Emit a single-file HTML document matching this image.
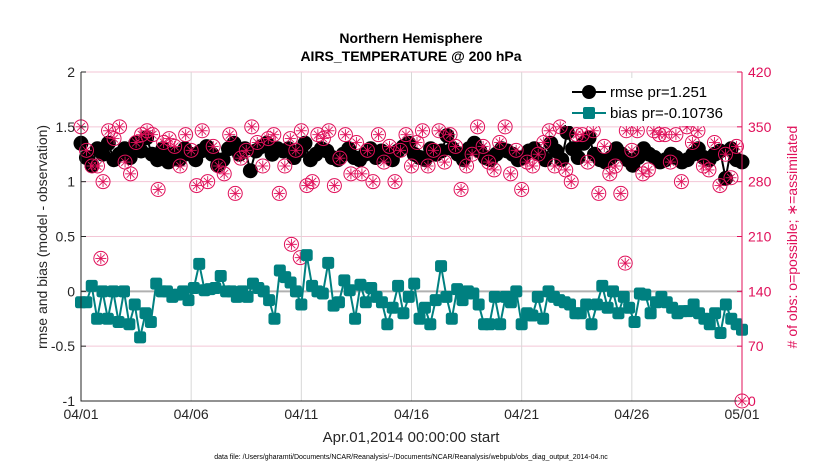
<!DOCTYPE html>
<html><head><meta charset="utf-8"><style>
body{margin:0;background:#fff;font-family:"Liberation Sans",sans-serif}
svg text{font-family:"Liberation Sans",sans-serif}
</style></head><body>
<svg id="c" width="830" height="470"></svg>
<script>
const biasVals=[-0.1,-0.1,0.05,-0.25,0.0,-0.25,0.0,-0.28,0.0,-0.3,-0.12,-0.42,-0.2,-0.28,0.07,0.0,0.0,-0.05,-0.03,0.0,-0.08,0.03,0.25,0.01,0.02,0.03,0.14,0.0,0.0,-0.05,0.0,-0.05,0.07,0.03,0.0,-0.08,-0.25,0.19,0.13,0.08,0.0,-0.12,0.33,0.05,0.0,-0.02,0.26,-0.13,-0.1,0.1,0.01,-0.25,0.06,-0.1,0.03,-0.05,-0.1,-0.3,-0.15,0.05,-0.2,-0.05,0.07,-0.25,-0.15,-0.3,-0.08,0.23,-0.05,-0.25,0.02,-0.08,0.0,-0.02,-0.12,-0.3,-0.3,-0.05,-0.3,-0.05,-0.1,0.0,-0.3,-0.2,-0.22,-0.05,-0.25,0.0,-0.05,-0.08,-0.1,-0.12,-0.2,-0.2,-0.12,-0.3,-0.12,0.05,-0.15,0.0,-0.2,-0.05,-0.15,-0.28,-0.02,-0.03,-0.2,-0.1,-0.05,-0.1,-0.15,-0.2,-0.18,-0.18,-0.12,-0.2,-0.25,-0.3,-0.2,-0.38,-0.12,-0.25,-0.3,-0.35];
const rmseVals=[1.35,1.22,1.15,1.3,1.25,1.35,1.2,1.25,1.3,1.22,1.35,1.28,1.4,1.25,1.2,1.3,1.18,1.25,1.2,1.3,1.25,1.2,1.28,1.32,1.25,1.15,1.2,1.3,1.35,1.25,1.3,1.1,1.28,1.32,1.35,1.25,1.3,1.28,1.3,1.22,1.28,1.35,1.2,1.25,1.3,1.28,1.22,1.2,1.25,1.3,1.22,1.2,1.25,1.3,1.22,1.28,1.25,1.2,1.28,1.32,1.35,1.25,1.22,1.2,1.3,1.25,1.28,1.42,1.3,1.25,1.2,1.3,1.35,1.28,1.22,1.2,1.25,1.3,1.28,1.25,1.2,1.22,1.28,1.3,1.25,1.2,1.35,1.28,1.2,1.45,1.3,1.22,1.35,1.4,1.25,1.2,1.18,1.22,1.3,1.25,1.2,1.15,1.22,1.3,1.25,1.22,1.18,1.2,1.25,1.22,1.18,1.2,1.25,1.3,1.22,1.2,1.25,1.28,1.03,1.3,1.2,1.18];
const obsVals=[350,320,300,300,280,345,335,350,305,290,330,340,345,340,270,330,335,325,300,340,320,275,345,280,325,300,290,340,265,310,320,350,330,300,335,340,265,300,335,320,345,275,280,340,335,345,275,310,340,290,330,290,320,280,340,305,325,280,320,340,300,330,345,300,320,345,305,340,325,270,300,315,350,325,305,295,330,350,290,320,270,305,300,315,330,345,300,350,295,280,340,340,305,345,265,325,290,300,265,345,320,345,290,295,345,340,340,305,340,280,350,330,345,300,295,330,275,315,285,325,0];
const lowObsX=[0.9,9.55,9.95,24.7];
const lowObsV=[182,200,183,176];
const xTickLabels=["04/01","04/06","04/11","04/16","04/21","04/26","05/01"];
const yTicks=[-1,-0.5,0,0.5,1,1.5,2];
const yRightTicks=[0,70,140,210,280,350,420];
const X0=81,X1=742,Y0=401,Y1=72;
const xs=d=>X0+(X1-X0)*d/30, ys=v=>Y0-(Y0-Y1)*(v+1)/3, yr=v=>Y0-(Y0-Y1)*v/420;
const S=document.getElementById('c'),NS="http://www.w3.org/2000/svg";
function el(t,a,txt){const e=document.createElementNS(NS,t);for(const k in a)e.setAttribute(k,a[k]);if(txt!=null)e.textContent=txt;S.appendChild(e);return e;}
yTicks.forEach(v=>{const e=el('line',{x1:X0,x2:X1,y1:ys(v),y2:ys(v),stroke:'#f3c6d6','stroke-width':1});

});
xTickLabels.forEach((t,i)=>{const e=el('line',{x1:xs(i*5),x2:xs(i*5),y1:Y0,y2:Y1,stroke:'#d8d8d8','stroke-width':1});

});
const z=el('line',{x1:X0,x2:X1,y1:ys(0),y2:ys(0),stroke:'#b0b0b0','stroke-width':2});


function obsMarker(x,y){const g=document.createElementNS(NS,'g');S.appendChild(g);


let h=`<circle cx="${x}" cy="${y}" r="7" fill="none" stroke="#e0105a" stroke-width="1"/>`;
for(let a=0;a<4;a++){const an=a*Math.PI/4,dx=5.5*Math.cos(an),dy=5.5*Math.sin(an);h+=`<line x1="${x-dx}" y1="${y-dy}" x2="${x+dx}" y2="${y+dy}" stroke="#e0105a" stroke-width="0.9"/>`;}
g.innerHTML=h;}
const n=rmseVals.length;
const rp=rmseVals.map((v,i)=>xs(i*30/(n-1))+','+ys(v)).join(' ');
const rl=el('polyline',{points:rp,fill:'none',stroke:'#000','stroke-width':2});


rmseVals.forEach((v,i)=>{const c=el('circle',{cx:xs(i*30/(n-1)),cy:ys(v),r:7.5,fill:'#000'});

});
obsVals.forEach((v,i)=>obsMarker(xs(i*30/(obsVals.length-1)),yr(v)));
lowObsX.forEach((d,i)=>obsMarker(xs(d),yr(lowObsV[i])));
const m=biasVals.length;
const bp=biasVals.map((v,i)=>xs(i*30/(m-1))+','+ys(v)).join(' ');
const bl=el('polyline',{points:bp,fill:'none',stroke:'#008080','stroke-width':2});


biasVals.forEach((v,i)=>{const r=el('rect',{x:xs(i*30/(m-1))-6,y:ys(v)-6,width:12,height:12,rx:2.5,fill:'#008080'});

});
const ax=el('path',{d:`M${X0},${Y1}V${Y0}H${X1}`,fill:'none',stroke:'#262626','stroke-width':1});


const ra=el('line',{x1:X1,x2:X1,y1:Y1,y2:Y0,stroke:'#e0105a','stroke-width':1});


yTicks.forEach(v=>{const t=el('text',{x:X0-6,y:ys(v)+5,'text-anchor':'end','font-size':14,fill:'#262626'},String(v));


el('line',{x1:X0,x2:X0+5,y1:ys(v),y2:ys(v),stroke:'#262626'});});
yRightTicks.forEach(v=>{const t=el('text',{x:X1+6,y:yr(v)+5,'font-size':14,fill:'#e0105a'},String(v));


el('line',{x1:X1-5,x2:X1,y1:yr(v),y2:yr(v),stroke:'#e0105a'});});
xTickLabels.forEach((l,i)=>{const t=el('text',{x:xs(i*5),y:Y0+18,'text-anchor':'middle','font-size':14,fill:'#262626'},l);

});
</script>
<svg width="830" height="470" style="position:absolute;left:0;top:0">
<text x="411" y="43" text-anchor="middle" font-size="14" font-weight="bold" fill="#000">Northern Hemisphere</text>
<text x="411" y="61" text-anchor="middle" font-size="14" font-weight="bold" fill="#000">AIRS_TEMPERATURE @ 200 hPa</text>
<text x="411" y="442" text-anchor="middle" font-size="15" fill="#262626">Apr.01,2014 00:00:00 start</text>
<text x="411" y="459" text-anchor="middle" font-size="7" fill="#000">data file: /Users/gharamti/Documents/NCAR/Reanalysis/~/Documents/NCAR/Reanalysis/webpub/obs_diag_output_2014-04.nc</text>
<text transform="translate(47,237) rotate(-90)" text-anchor="middle" font-size="14" fill="#262626">rmse and bias (model - observation)</text>
<text transform="translate(797,237) rotate(-90)" text-anchor="middle" font-size="14" fill="#e0105a"># of obs: o=possible; ∗=assimilated</text>
<g>
<rect x="566" y="78" width="172" height="48" fill="#fff"/>
<line x1="572" y1="92" x2="606" y2="92" stroke="#000" stroke-width="2"/><circle cx="589" cy="92" r="7" fill="#000"/>
<text x="610" y="97" font-size="15" fill="#000">rmse pr=1.251</text>
<line x1="572" y1="113" x2="606" y2="113" stroke="#008080" stroke-width="2"/><rect x="583" y="107" width="12" height="12" rx="2" fill="#008080"/>
<text x="610" y="118" font-size="15" fill="#000">bias pr=-0.10736</text>
</g>
</svg>
</body></html>
